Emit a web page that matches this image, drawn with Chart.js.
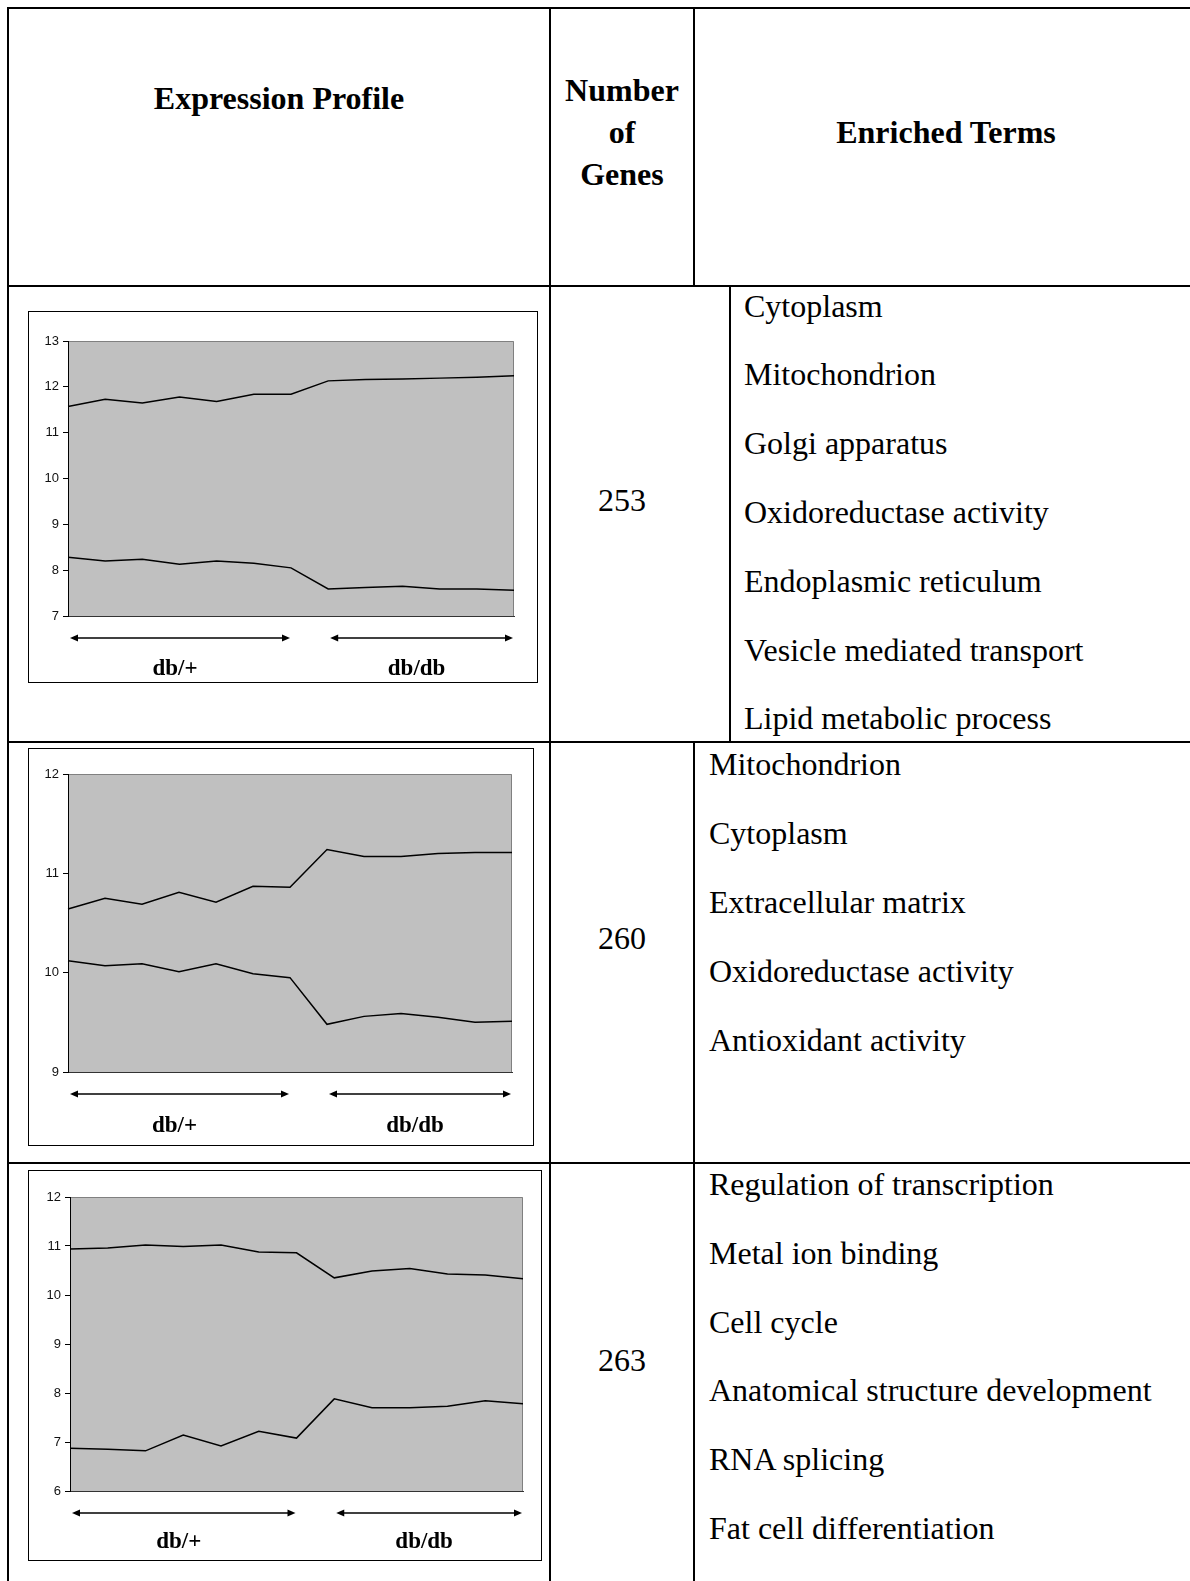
<!DOCTYPE html>
<html>
<head>
<meta charset="utf-8">
<script src="https://cdn.jsdelivr.net/npm/chart.js@4.4.0/dist/chart.umd.min.js"></script>
<style>
  body { margin:0; width:1190px; height:1581px; overflow:hidden; background:#fff; position:relative;
         font-family:"Liberation Serif","Times New Roman",serif; }
  .ln { position:absolute; background:#000; }
  .t { position:absolute; font-size:32px; line-height:40px; white-space:nowrap; color:#000; }
  .b { font-weight:bold; }
  .frame { position:absolute; border:1px solid #000; box-sizing:border-box; }
  .frame canvas { position:absolute; left:0; top:0; }
</style>
</head>
<body>
<script>
// ---- data ----
const sampleLabels = ['1','2','3','4','5','6','7','8','9','10','11','12','13'];
const groupLabels = ['db/+', 'db/db'];
const groupRanges = [[0, 6], [7, 12]];

const upperA = [11.57, 11.73, 11.65, 11.78, 11.68, 11.84, 11.84, 12.13, 12.16, 12.17, 12.19, 12.21, 12.24];
const lowerA = [8.28, 8.20, 8.24, 8.13, 8.20, 8.15, 8.05, 7.59, 7.62, 7.65, 7.59, 7.59, 7.56];
const upperB = [10.64, 10.75, 10.69, 10.81, 10.71, 10.87, 10.86, 11.24, 11.17, 11.17, 11.20, 11.21, 11.21];
const lowerB = [10.12, 10.07, 10.09, 10.01, 10.09, 9.99, 9.95, 9.48, 9.56, 9.59, 9.55, 9.50, 9.51];
const upperC = [10.94, 10.96, 11.02, 10.99, 11.02, 10.88, 10.86, 10.35, 10.49, 10.54, 10.43, 10.41, 10.33];
const lowerC = [6.87, 6.85, 6.82, 7.14, 6.92, 7.22, 7.08, 7.88, 7.70, 7.70, 7.73, 7.84, 7.78];

const yRangeA = [7, 13];
const yRangeB = [9, 12];
const yRangeC = [6, 12];

const geneCounts = ['253', '260', '263'];
const termsA = ['Cytoplasm', 'Mitochondrion', 'Golgi apparatus', 'Oxidoreductase activity',
  'Endoplasmic reticulum', 'Vesicle mediated transport', 'Lipid metabolic process'];
const termsB = ['Mitochondrion', 'Cytoplasm', 'Extracellular matrix', 'Oxidoreductase activity',
  'Antioxidant activity'];
const termsC = ['Regulation of transcription', 'Metal ion binding', 'Cell cycle',
  'Anatomical structure development', 'RNA splicing', 'Fat cell differentiation'];

// ---- table ----
function line(x, y, w, h) {
  const d = document.createElement('div');
  d.className = 'ln';
  d.style.cssText = `left:${x}px;top:${y}px;width:${w}px;height:${h}px`;
  document.body.appendChild(d);
}
function text(str, x, cy, opts = {}) {
  const d = document.createElement('div');
  d.className = 't' + (opts.bold ? ' b' : '');
  d.textContent = str;
  d.style.top = (cy - 20) + 'px';
  if (opts.center) {
    d.style.left = (x - 300) + 'px';
    d.style.width = '600px';
    d.style.textAlign = 'center';
  } else {
    d.style.left = x + 'px';
  }
  document.body.appendChild(d);
}

line(7, 7, 1191, 2);
line(7, 285, 1191, 2);
line(7, 741, 1191, 2);
line(7, 1162, 1191, 2);
line(7, 7, 2, 1580);
line(549, 7, 2, 1580);
line(693, 7, 2, 280);
line(729, 286, 2, 456);
line(693, 742, 2, 840);

text('Expression Profile', 279, 98, {bold: true, center: true});
text('Number', 622, 90, {bold: true, center: true});
text('of', 622, 132, {bold: true, center: true});
text('Genes', 622, 174, {bold: true, center: true});
text('Enriched Terms', 946, 132, {bold: true, center: true});

text(geneCounts[0], 622, 500, {center: true});
text(geneCounts[1], 622, 938, {center: true});
text(geneCounts[2], 622, 1360, {center: true});

termsA.forEach((s, i) => text(s, 744, 305.6 + i * 68.8));
termsB.forEach((s, i) => text(s, 709, 764.4 + i * 68.8));
termsC.forEach((s, i) => text(s, 709, 1184 + i * 68.8));

// ---- charts ----
const plotFrame = {
  id: 'plotFrame',
  beforeDraw(chart) {
    const {ctx, chartArea: a} = chart;
    ctx.save();
    ctx.fillStyle = '#c0c0c0';
    ctx.fillRect(a.left, a.top, a.right - a.left, a.bottom - a.top);
    ctx.strokeStyle = '#808080';
    ctx.lineWidth = 1;
    ctx.beginPath();
    ctx.moveTo(a.left, a.top + 0.5);
    ctx.lineTo(a.right - 0.5, a.top + 0.5);
    ctx.lineTo(a.right - 0.5, a.bottom);
    ctx.stroke();
    ctx.restore();
  },
  afterDraw(chart) {
    const {ctx, chartArea: a, scales: {x}} = chart;
    const o = chart.options.plugins.plotFrame;
    const y = a.bottom + o.arrowDy;
    ctx.save();
    ctx.strokeStyle = '#000';
    ctx.fillStyle = '#000';
    ctx.lineWidth = 1.5;
    groupRanges.forEach((r, i) => {
      const x1 = x.getPixelForValue(r[0]) + 2;
      const x2 = x.getPixelForValue(r[1]) - 1;
      ctx.beginPath();
      ctx.moveTo(x1 + 4, y);
      ctx.lineTo(x2 - 4, y);
      ctx.stroke();
      ctx.beginPath();
      ctx.moveTo(x1, y); ctx.lineTo(x1 + 8, y - 3.5); ctx.lineTo(x1 + 8, y + 3.5); ctx.closePath();
      ctx.fill();
      ctx.beginPath();
      ctx.moveTo(x2, y); ctx.lineTo(x2 - 8, y - 3.5); ctx.lineTo(x2 - 8, y + 3.5); ctx.closePath();
      ctx.fill();
      ctx.font = 'bold 23px "Liberation Serif", "Times New Roman", serif';
      ctx.textAlign = 'center';
      ctx.textBaseline = 'middle';
      ctx.fillText(groupLabels[i], (x1 + x2) / 2 - 5, a.bottom + o.labelDy);
    });
    ctx.restore();
  }
};

function makeChart(frame, plot, upper, lower, yRange, labelDy) {
  const div = document.createElement('div');
  div.className = 'frame';
  div.style.cssText = `left:${frame.x}px;top:${frame.y}px;width:${frame.w}px;height:${frame.h}px`;
  const canvas = document.createElement('canvas');
  const cw = frame.w - 2, ch = frame.h - 2;
  canvas.width = cw; canvas.height = ch;
  div.appendChild(canvas);
  document.body.appendChild(div);
  const ox = frame.x + 1, oy = frame.y + 1;
  const pad = {left: plot.l - ox, top: plot.t - oy, right: ox + cw - plot.r, bottom: oy + ch - plot.b};

  new Chart(canvas.getContext('2d'), {
    type: 'line',
    data: {
      labels: sampleLabels,
      datasets: [upper, lower].map(d => ({
        data: d,
        borderColor: '#000',
        borderWidth: 1.5,
        pointRadius: 0,
        tension: 0,
        fill: false
      }))
    },
    options: {
      responsive: false,
      animation: false,
      layout: {padding: {left: 0, top: pad.top, right: pad.right, bottom: 0}},
      plugins: {
        legend: {display: false},
        tooltip: {enabled: false},
        plotFrame: {arrowDy: 22, labelDy: labelDy}
      },
      scales: {
        x: {
          grid: {display: false},
          ticks: {display: false},
          border: {display: true, color: '#333', width: 1},
          afterFit(s) { s.height = pad.bottom; }
        },
        y: {
          min: yRange[0],
          max: yRange[1],
          ticks: {stepSize: 1, color: '#111', padding: 4,
                  font: {family: '"Liberation Sans", Arial, sans-serif', size: 13}},
          grid: {drawOnChartArea: false, tickLength: 5, color: '#000'},
          border: {display: true, color: '#000', width: 1},
          afterFit(s) { s.width = pad.left; }
        }
      }
    },
    plugins: [plotFrame]
  });
}

makeChart({x: 28, y: 311, w: 510, h: 372}, {l: 68, t: 341, r: 514, b: 616}, upperA, lowerA, yRangeA, 53);
makeChart({x: 28, y: 748, w: 506, h: 398}, {l: 68, t: 774, r: 512, b: 1072}, upperB, lowerB, yRangeB, 54);
makeChart({x: 28, y: 1170, w: 514, h: 391}, {l: 70, t: 1197, r: 523, b: 1491}, upperC, lowerC, yRangeC, 51);
</script>
</body>
</html>
